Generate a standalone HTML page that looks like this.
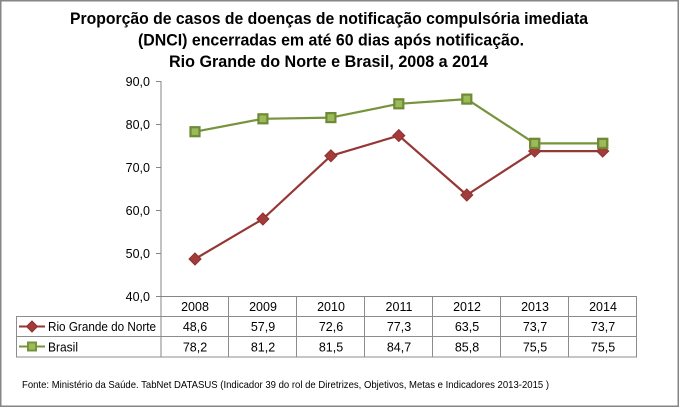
<!DOCTYPE html>
<html>
<head>
<meta charset="utf-8">
<style>
html,body{margin:0;padding:0;background:#fff;}
svg{display:block;}
text{font-family:"Liberation Sans",sans-serif;}
</style>
</head>
<body>
<svg width="680" height="408" viewBox="0 0 680 408" xmlns="http://www.w3.org/2000/svg">
<rect x="0" y="0" width="680" height="408" fill="#fff"/>
<rect x="0.75" y="0.75" width="677.5" height="405.5" fill="none" stroke="#868686" stroke-width="1.5"/>

<!-- Title -->
<g font-weight="bold" font-size="17" fill="#000" text-anchor="start">
<text x="70" y="24" textLength="518" lengthAdjust="spacingAndGlyphs">Proporção de casos de doenças de notificação compulsória imediata</text>
<text x="138" y="45.5" textLength="386" lengthAdjust="spacingAndGlyphs">(DNCI) encerradas em até 60 dias após notificação.</text>
<text x="169" y="67" textLength="319" lengthAdjust="spacingAndGlyphs">Rio Grande do Norte e Brasil, 2008 a 2014</text>
</g>

<!-- Y axis -->
<g stroke="#868686" stroke-width="1">
<line x1="161" y1="81" x2="161" y2="357"/>
<line x1="156" y1="81.5" x2="161" y2="81.5"/>
<line x1="156" y1="124.5" x2="161" y2="124.5"/>
<line x1="156" y1="167.5" x2="161" y2="167.5"/>
<line x1="156" y1="210.5" x2="161" y2="210.5"/>
<line x1="156" y1="253.5" x2="161" y2="253.5"/>
<line x1="156" y1="296.5" x2="637" y2="296.5"/>
</g>
<g font-size="12.5" fill="#000" text-anchor="end">
<text x="150" y="86">90,0</text>
<text x="150" y="129">80,0</text>
<text x="150" y="172">70,0</text>
<text x="150" y="215">60,0</text>
<text x="150" y="258">50,0</text>
<text x="150" y="301">40,0</text>
</g>

<!-- Table grid -->
<g stroke="#8c8c8c" stroke-width="1">
<line x1="16" y1="316.5" x2="637" y2="316.5"/>
<line x1="16" y1="336.5" x2="637" y2="336.5"/>
<line x1="16" y1="357" x2="637" y2="357"/>
<line x1="16.5" y1="316" x2="16.5" y2="357.5"/>
<line x1="228.5" y1="296" x2="228.5" y2="357.5"/>
<line x1="296.5" y1="296" x2="296.5" y2="357.5"/>
<line x1="364.5" y1="296" x2="364.5" y2="357.5"/>
<line x1="432.5" y1="296" x2="432.5" y2="357.5"/>
<line x1="500.5" y1="296" x2="500.5" y2="357.5"/>
<line x1="568.5" y1="296" x2="568.5" y2="357.5"/>
<line x1="636.5" y1="296" x2="636.5" y2="357.5"/>
</g>

<!-- Table text -->
<g font-size="12.5" fill="#000" text-anchor="middle">
<text x="195" y="311">2008</text>
<text x="263" y="311">2009</text>
<text x="331" y="311">2010</text>
<text x="399" y="311">2011</text>
<text x="467" y="311">2012</text>
<text x="535" y="311">2013</text>
<text x="603" y="311">2014</text>

<text x="195" y="331">48,6</text>
<text x="263" y="331">57,9</text>
<text x="331" y="331">72,6</text>
<text x="399" y="331">77,3</text>
<text x="467" y="331">63,5</text>
<text x="535" y="331">73,7</text>
<text x="603" y="331">73,7</text>

<text x="195" y="351.5">78,2</text>
<text x="263" y="351.5">81,2</text>
<text x="331" y="351.5">81,5</text>
<text x="399" y="351.5">84,7</text>
<text x="467" y="351.5">85,8</text>
<text x="535" y="351.5">75,5</text>
<text x="603" y="351.5">75,5</text>
</g>

<!-- Legend -->
<line x1="19" y1="326.5" x2="45" y2="326.5" stroke="#953735" stroke-width="2"/>
<polygon points="32,321 37.5,326.5 32,332 26.5,326.5" fill="#a23b39" stroke="#8c3230" stroke-width="1"/>
<text x="48" y="331" font-size="12.5" fill="#000" textLength="108" lengthAdjust="spacingAndGlyphs">Rio Grande do Norte</text>
<line x1="19" y1="346.5" x2="45" y2="346.5" stroke="#77933c" stroke-width="2"/>
<rect x="28" y="342.5" width="8" height="8" fill="#9bbb59" stroke="#77933c" stroke-width="2"/>
<text x="48" y="351.5" font-size="12.5" fill="#000" textLength="30" lengthAdjust="spacingAndGlyphs">Brasil</text>

<!-- Brasil series -->
<polyline fill="none" stroke="#77933c" stroke-width="2.2" stroke-linejoin="round"
 points="195,131.7 262.9,118.8 330.9,117.6 398.8,103.8 466.8,99.1 534.7,143.4 602.7,143.4"/>
<g fill="#9bbb59" stroke="#6f8a36" stroke-width="2.2">
<rect x="190.5" y="127.2" width="9" height="9"/>
<rect x="258.4" y="114.3" width="9" height="9"/>
<rect x="326.4" y="113.1" width="9" height="9"/>
<rect x="394.3" y="99.3" width="9" height="9"/>
<rect x="462.3" y="94.6" width="9" height="9"/>
<rect x="530.2" y="138.9" width="9" height="9"/>
<rect x="598.2" y="138.9" width="9" height="9"/>
</g>

<!-- RN series -->
<polyline fill="none" stroke="#953735" stroke-width="2.2" stroke-linejoin="round"
 points="195,259 262.9,219 330.9,155.8 398.8,135.6 466.8,195 534.7,151.1 602.7,151.1"/>
<g fill="#a23b39" stroke="#8c3230" stroke-width="1">
<polygon points="195,253 201,259 195,265 189,259"/>
<polygon points="262.9,213 268.9,219 262.9,225 256.9,219"/>
<polygon points="330.9,149.8 336.9,155.8 330.9,161.8 324.9,155.8"/>
<polygon points="398.8,129.6 404.8,135.6 398.8,141.6 392.8,135.6"/>
<polygon points="466.8,189 472.8,195 466.8,201 460.8,195"/>
<polygon points="534.7,145.1 540.7,151.1 534.7,157.1 528.7,151.1"/>
<polygon points="602.7,145.1 608.7,151.1 602.7,157.1 596.7,151.1"/>
</g>
<!-- redraw green markers for 2013/2014 on top -->
<g fill="#9bbb59" stroke="#6f8a36" stroke-width="2.2">
<rect x="530.2" y="138.9" width="9" height="9"/>
<rect x="598.2" y="138.9" width="9" height="9"/>
</g>

<!-- Footer -->
<text x="22" y="388" font-size="10.5" fill="#000" textLength="527" lengthAdjust="spacingAndGlyphs">Fonte: Ministério da Saúde. TabNet DATASUS (Indicador 39 do rol de Diretrizes, Objetivos, Metas e Indicadores 2013-2015 )</text>
</svg>
</body>
</html>
